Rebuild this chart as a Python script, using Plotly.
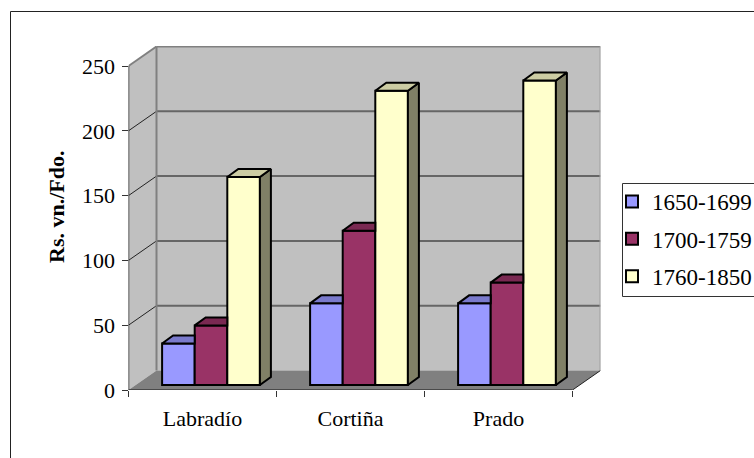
import plotly.graph_objects as go

categories = ["Labradío", "Cortiña", "Prado"]
series_names = ["1650-1699", "1700-1759", "1760-1850"]
values_1650 = [32, 63, 63]
values_1700 = [46, 119, 79]
values_1760 = [160.5, 227, 235]
series_values = [values_1650, values_1700, values_1760]
front_colors = ["#9999FF", "#993366", "#FFFFCC"]
top_colors = ["#7A7ACC", "#7A2952", "#CCCCA3"]
side_colors = ["#5C5C99", "#5C1F3D", "#808066"]
y_ticks = [0, 50, 100, 150, 200, 250]

W, H = 754, 458
PX_L, PX_R, PX_B, PX_T = 128.5, 600.5, 390.0, 46.0   # plot area in page pixels
PX_CAT = 148.0        # pixels per category
PX_VAL = 324.0 / 250  # pixels per value unit

x_lo = -0.5
x_hi = x_lo + (PX_R - PX_L) / PX_CAT
y_hi = (PX_B - PX_T) / PX_VAL
wall_dx = 28 / PX_CAT          # depth of the walls, axis units
wall_dy = 19.5 / PX_VAL
front_end = x_lo + len(categories)
bar_w = 32.6 / PX_CAT
bar_shift = 8.5 / PX_CAT
bar_base = 5 / PX_VAL
depth_x = 11 / PX_CAT
depth_y = 8 / PX_VAL
edge = dict(color="black", width=2)

fig = go.Figure()

# columns
for s, name in enumerate(series_names):
    xs = [i + bar_shift + (s - 1) * bar_w for i in range(len(categories))]
    fig.add_trace(go.Bar(
        x=xs, y=series_values[s], base=bar_base, width=bar_w, name=name,
        legendgroup=name, marker=dict(color=front_colors[s], line=edge),
    ))

# visible 3D faces of each column; the next column's front hides what lies behind it
n_series = len(series_names)
for s, name in enumerate(series_names):
    last = s == n_series - 1
    for i in range(len(categories)):
        x0 = i + bar_shift + (s - 1) * bar_w - bar_w / 2
        x1 = x0 + bar_w
        y0 = bar_base
        y1 = bar_base + series_values[s][i]
        if last:
            fig.add_trace(go.Scatter(
                x=[x1, x1 + depth_x, x1 + depth_x, x1, x1],
                y=[y0, y0 + depth_y, y1 + depth_y, y1, y0],
                mode="lines", fill="toself", fillcolor=side_colors[s],
                line=edge, showlegend=False,
                legendgroup=name, hoverinfo="skip", cliponaxis=False,
            ))
            top_x = [x0, x1, x1 + depth_x, x0 + depth_x, x0]
            top_y = [y1, y1, y1 + depth_y, y1 + depth_y, y1]
        else:
            top_x = [x0, x1, x1, x0 + depth_x, x0]
            top_y = [y1, y1, y1 + depth_y, y1 + depth_y, y1]
        fig.add_trace(go.Scatter(
            x=top_x, y=top_y,
            mode="lines", fill="toself", fillcolor=top_colors[s],
            line=edge, showlegend=False,
            legendgroup=name, hoverinfo="skip", cliponaxis=False,
        ))

shapes = []


def poly(pts, fill):
    path = "M " + " L ".join(f"{a},{b}" for a, b in pts) + " Z"
    shapes.append(dict(type="path", path=path, xref="x", yref="y", layer="below",
                       fillcolor=fill, line=dict(color=fill, width=0)))


def seg(a, b, c, d, color, width):
    shapes.append(dict(type="line", x0=a, y0=b, x1=c, y1=d, xref="x", yref="y",
                       layer="below", line=dict(color=color, width=width)))


top = y_ticks[-1]
# back wall, side wall, floor
poly([(x_lo + wall_dx, wall_dy), (front_end + wall_dx, wall_dy),
      (front_end + wall_dx, top + wall_dy), (x_lo + wall_dx, top + wall_dy)], "#C0C0C0")
poly([(x_lo, 0), (x_lo + wall_dx, wall_dy), (x_lo + wall_dx, top + wall_dy), (x_lo, top)], "#C0C0C0")
poly([(x_lo, 0), (front_end, 0), (front_end + wall_dx, wall_dy), (x_lo + wall_dx, wall_dy)], "#808080")
# gridlines
for t in y_ticks[1:-1]:
    seg(x_lo + wall_dx, t + wall_dy, front_end + wall_dx, t + wall_dy, "#666666", 2)
    seg(x_lo, t, x_lo + wall_dx, t + wall_dy, "#222222", 1)
# wall outlines
seg(x_lo + wall_dx, top + wall_dy, front_end + wall_dx, top + wall_dy, "#808080", 2)
seg(x_lo, top, x_lo + wall_dx, top + wall_dy, "#808080", 2)
seg(x_lo + wall_dx, wall_dy, x_lo + wall_dx, top + wall_dy, "#808080", 2)
seg(front_end + wall_dx, wall_dy, front_end + wall_dx, top + wall_dy, "#A0A0A0", 2)
seg(front_end, 0, front_end + wall_dx, wall_dy, "#222222", 1)
# value axis and category axis lines
seg(x_lo, 0, x_lo, top, "#333333", 1.5)
seg(x_lo, 0, front_end, 0, "#4A4A4A", 2)

# chart frame, running off the page on the right and the bottom; legend box
for a, b, c, d in [(10.5, 11.5, W, 11.5), (10.5, 11.5, 10.5, H)]:
    shapes.append(dict(type="line", xref="paper", yref="paper", x0=a / W, x1=c / W,
                       y0=1 - b / H, y1=1 - d / H, line=dict(color="#222222", width=1)))
shapes.append(dict(type="rect", xref="paper", yref="paper", x0=622.5 / W, x1=760 / W,
                   y0=1 - 296.5 / H, y1=1 - 183.5 / H, fillcolor="white",
                   line=dict(color="#333333", width=1), layer="below"))

font = "Liberation Serif"
fig.update_layout(
    width=W, height=H, margin=dict(l=0, r=0, t=0, b=0, autoexpand=False),
    paper_bgcolor="white", plot_bgcolor="rgba(0,0,0,0)",
    font=dict(family=font, size=22, color="black"),
    barmode="overlay", shapes=shapes,
    xaxis=dict(domain=[PX_L / W, PX_R / W], range=[x_lo, x_hi],
               tickvals=list(range(len(categories))), ticktext=categories,
               ticks="", showgrid=False, zeroline=False, showline=False,
               minor=dict(tickvals=[i - 0.5 for i in range(len(categories) + 1)],
                          ticks="outside", ticklen=6, tickcolor="#333333", tickwidth=1, showgrid=False),
               tickfont=dict(size=22), ticklabelstandoff=13),
    yaxis=dict(domain=[1 - PX_B / H, 1 - PX_T / H], range=[0, y_hi],
               tickvals=y_ticks, ticks="outside", ticklen=6, tickcolor="#333333", tickwidth=1,
               showgrid=False, zeroline=False, showline=False, tickfont=dict(size=22),
               ticklabelstandoff=2),
    annotations=[dict(text="<b>Rs. vn./Fdo.</b>", xref="paper", yref="paper", x=56 / W, y=1 - 207 / H,
                      xanchor="center", yanchor="middle",
                      textangle=-90, showarrow=False, font=dict(size=22))],
    legend=dict(x=612 / W, y=1 - 180 / H, xanchor="left", yanchor="top", bgcolor="rgba(0,0,0,0)",
                font=dict(size=23), tracegroupgap=4.5, traceorder="grouped", borderwidth=0),
    showlegend=True,
)

fig.write_html("out.html", config=dict(displayModeBar=False),
               post_script="document.body.style.margin='0';")
